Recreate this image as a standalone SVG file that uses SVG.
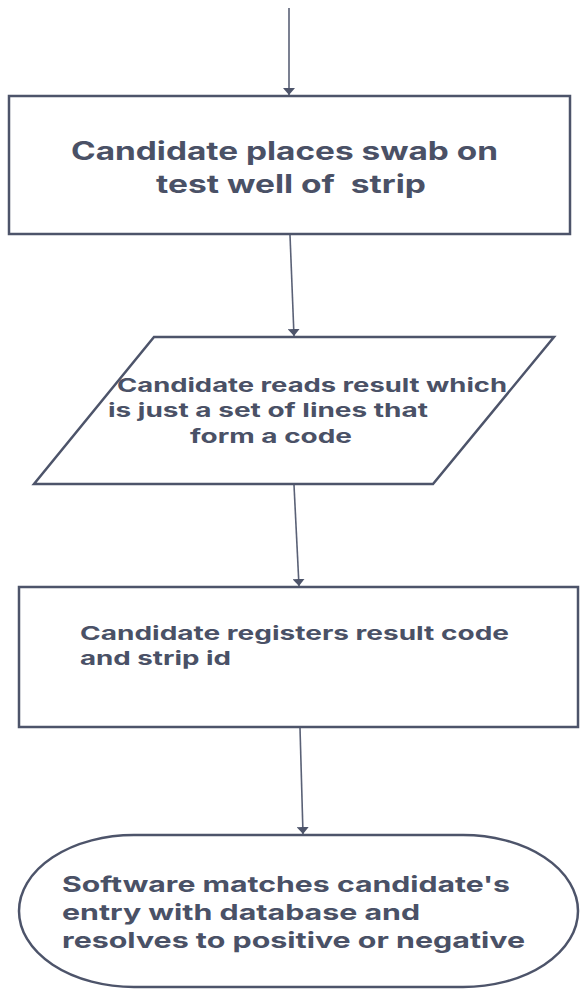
<svg xmlns="http://www.w3.org/2000/svg" width="580" height="989" viewBox="0 0 580 989">
  <style>
    .shape { fill: #ffffff; stroke: #4d546a; stroke-width: 2.5; }
    .conn { fill: none; stroke: #5a6176; stroke-width: 1.6; }
    .t { font-family: Inter, "DejaVu Sans", "Liberation Sans", sans-serif; font-weight: 700; fill: #4a5166; }
    .big { font-size: 25px; }
    .mid { font-size: 19px; }
    .end { font-size: 22px; }
  </style>
  <defs>
    <marker id="arrow" markerUnits="userSpaceOnUse" viewBox="0 0 7 12" refX="7" refY="6" markerWidth="7" markerHeight="12" orient="auto">
      <path d="M0,0 L7,6 L0,12 Z" fill="#4d546a"/>
    </marker>
  </defs>
  <rect width="580" height="989" fill="#ffffff"/>

  <g id="connectors">
    <line class="conn" x1="289" y1="8" x2="289" y2="95" marker-end="url(#arrow)"/>
    <line class="conn" x1="290" y1="235" x2="294" y2="336" marker-end="url(#arrow)"/>
    <line class="conn" x1="294" y1="485" x2="299" y2="586" marker-end="url(#arrow)"/>
    <line class="conn" x1="300" y1="728" x2="303" y2="834" marker-end="url(#arrow)"/>
  </g>

  <g id="node1">
    <rect class="shape" x="9" y="96" width="561" height="138"/>
    <text class="t big" x="71" y="160" textLength="427" lengthAdjust="spacingAndGlyphs">Candidate places swab on</text>
    <text class="t big" x="156" y="193" textLength="270" lengthAdjust="spacingAndGlyphs" xml:space="preserve">test well of  strip</text>
  </g>

  <g id="node2">
    <polygon class="shape" points="154,337 554,337 433,484 34,484"/>
    <text class="t mid" x="117" y="392" textLength="390" lengthAdjust="spacingAndGlyphs">Candidate reads result which</text>
    <text class="t mid" x="108" y="417" textLength="320" lengthAdjust="spacingAndGlyphs">is just a set of lines that</text>
    <text class="t mid" x="190" y="443" textLength="162" lengthAdjust="spacingAndGlyphs">form a code</text>
  </g>

  <g id="node3">
    <rect class="shape" x="19" y="587" width="559" height="140"/>
    <text class="t mid" x="80" y="640" textLength="429" lengthAdjust="spacingAndGlyphs">Candidate registers result code</text>
    <text class="t mid" x="80" y="665" textLength="151" lengthAdjust="spacingAndGlyphs">and strip id</text>
  </g>

  <g id="node4">
    <rect class="shape" x="19" y="835" width="559" height="152" rx="115" ry="76"/>
    <text class="t end" x="62" y="892" textLength="448" lengthAdjust="spacingAndGlyphs">Software matches candidate's</text>
    <text class="t end" x="62" y="920" textLength="358" lengthAdjust="spacingAndGlyphs">entry with database and</text>
    <text class="t end" x="62" y="948" textLength="463" lengthAdjust="spacingAndGlyphs">resolves to positive or negative</text>
  </g>
</svg>
